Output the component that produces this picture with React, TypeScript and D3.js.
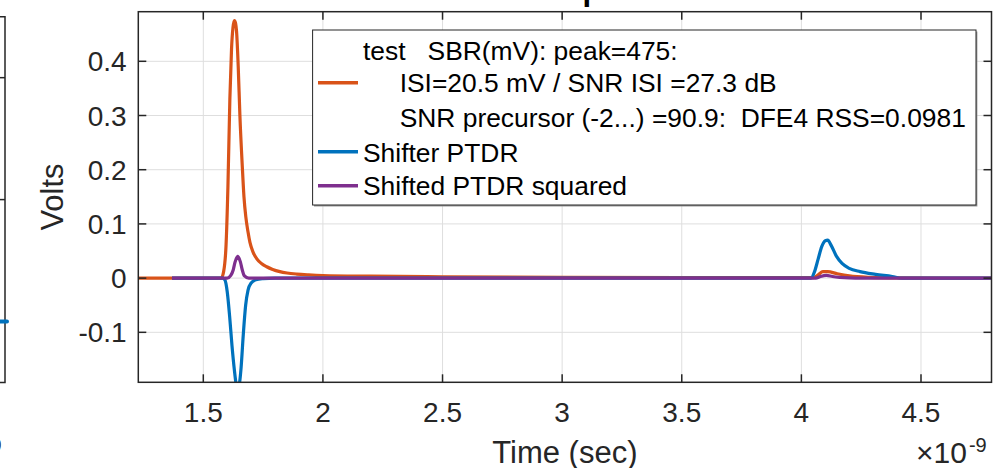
import React from 'react';
import * as d3 from 'd3';

// axis ticks (time in ns, shown with a x10^-9 exponent)
const xTicks = [1.5, 2, 2.5, 3, 3.5, 4, 4.5];
const yTicks = [-0.1, 0, 0.1, 0.2, 0.3, 0.4];

// SBR pulse response (orange)
const sbrTime = [1.2, 1.5, 1.575, 1.585, 1.595, 1.603, 1.611, 1.618, 1.624, 1.63, 1.635, 1.639, 1.646, 1.653, 1.663, 1.67,
  1.678, 1.687, 1.695, 1.708, 1.723, 1.743, 1.765, 1.79, 1.82, 1.85, 1.89, 1.94, 2.0, 2.2, 2.5, 3.0, 3.5, 4.0, 4.05,
  4.07, 4.09, 4.11, 4.15, 4.2, 4.28, 4.4, 4.8];
const sbrVolts = [0, 0, 0, 0.012, 0.06, 0.17, 0.33, 0.423, 0.462, 0.475, 0.47, 0.455, 0.39, 0.3, 0.206, 0.15,
  0.112, 0.085, 0.066, 0.048, 0.036, 0.027, 0.021, 0.016, 0.012, 0.0095, 0.0075, 0.006, 0.0048, 0.0035, 0.0025, 0.0015, 0.001, 0.0008, 0.0008,
  0.006, 0.012, 0.012, 0.008, 0.004, 0.0015, 0.0005, 0];

// Shifter PTDR (blue)
const ptdrTime = [1.369, 1.58, 1.59, 1.6, 1.61, 1.62, 1.63, 1.637, 1.644, 1.651, 1.658, 1.667, 1.677, 1.687, 1.7, 1.72, 1.75, 1.8,
  4.04, 4.055, 4.07, 4.085, 4.1, 4.11, 4.125, 4.147, 4.17, 4.2, 4.245, 4.31, 4.38, 4.42, 4.8];
const ptdrVolts = [0, 0, -0.003, -0.025, -0.07, -0.125, -0.17, -0.195, -0.205, -0.195, -0.165, -0.105, -0.05, -0.022, -0.009, -0.003, -0.001, 0,
  0, 0.012, 0.035, 0.058, 0.069, 0.07, 0.06, 0.04, 0.027, 0.018, 0.012, 0.007, 0.003, 0, 0];

// Shifted PTDR squared (purple)
const sqTime = [1.369, 1.6, 1.615, 1.625, 1.633, 1.644, 1.655, 1.663, 1.672, 1.69, 4.06, 4.08, 4.105, 4.13, 4.16, 4.2, 4.25, 4.8];
const sqVolts = [0, 0, 0.005, 0.015, 0.03, 0.04, 0.03, 0.015, 0.004, 0, 0, 0.003, 0.0049, 0.003, 0.0015, 0.0004, 0, 0];

// neighbouring subplot, only its right edge is in frame
const leftYTicks = [-1, 0, 1];
const leftTime = [4.774, 4.803];
const leftVolts = [-1, -1];

const legendText = [
  'test   SBR(mV): peak=475:',
  '     ISI=20.5 mV / SNR ISI =27.3 dB',
  '     SNR precursor (-2...) =90.9:  DFE4 RSS=0.0981',
  'Shifter PTDR',
  'Shifted PTDR squared',
];

const COLORS = { sbr: '#D95319', ptdr: '#0072BD', sq: '#7E2F8E' };
const AX = '#262626';
const GRID = '#dedede';
const FONT = '"Liberation Sans", Arial, Helvetica, sans-serif';

const box = { left: 138.3, right: 991.5, top: 11.7, bottom: 382.3 };
const leftBox = { right: 5, top: 16.7, bottom: 382.5 };

// matlab style labels, plain hyphen for the minus
const fmt = (v: number) => d3.format('~g')(v).replace('\u2212', '-');

export default function App() {
  const x = d3.scaleLinear().domain([1.2283, 4.7947]).range([box.left, box.right]);
  const y = d3.scaleLinear().domain([-0.1922, 0.4915]).range([box.bottom, box.top]);
  const lx = d3.scaleLinear().domain([1.2283, 4.7947]).range([leftBox.right - 853.2, leftBox.right]);
  const ly = d3.scaleLinear().domain([-1.5, 1.5]).range([leftBox.bottom, leftBox.top]);

  const line = (ts: number[], vs: number[]) =>
    d3.line<number>().x((d, i) => x(ts[i])).y(d => y(d)).curve(d3.curveMonotoneX)(vs) || '';

  const tickLen = 8;

  return (
    <svg width={1000} height={468} style={{ position: 'absolute', left: 0, top: 0, background: '#fff' }}
      fontFamily={FONT}>
      <defs>
        <clipPath id="plotClip">
          <rect x={box.left} y={box.top} width={box.right - box.left} height={box.bottom - box.top} />
        </clipPath>
      </defs>

      {/* partial neighbouring subplot */}
      <g>
        {leftYTicks.map(t => (
          <line key={t} x1={leftBox.right - tickLen} x2={leftBox.right} y1={ly(t)} y2={ly(t)} stroke={AX} strokeWidth={1.5} />
        ))}
        <path d={`M-10,${leftBox.top}H${leftBox.right}V${leftBox.bottom}H-10`} fill="none" stroke={AX} strokeWidth={1.5} />
        <path d={d3.line<number>().x((d, i) => lx(leftTime[i])).y(d => ly(d))(leftVolts) || ''}
          stroke={COLORS.ptdr} strokeWidth={4} strokeLinecap="round" fill="none" />
        <text x={leftBox.right - 74} y={463} fontSize={30} fill={AX}>
          ×10<tspan fontSize={20} dy={-11} dx={2}>-9</tspan>
        </text>
      </g>

      {/* title, only its descender peeks into the frame */}
      <text x={554} y={0} textAnchor="middle" fontSize={31} fontWeight="bold" fill="#000">Pulse Response</text>

      {/* grid */}
      {xTicks.map(t => (
        <line key={'gx' + t} x1={x(t)} x2={x(t)} y1={box.top} y2={box.bottom} stroke={GRID} strokeWidth={1} />
      ))}
      {yTicks.map(t => (
        <line key={'gy' + t} x1={box.left} x2={box.right} y1={y(t)} y2={y(t)} stroke={GRID} strokeWidth={1} />
      ))}

      {/* data */}
      <g clipPath="url(#plotClip)" fill="none" strokeWidth={3.2} strokeLinejoin="round">
        <path d={line(sbrTime, sbrVolts)} stroke={COLORS.sbr} />
        <path d={line(ptdrTime, ptdrVolts)} stroke={COLORS.ptdr} />
        <path d={line(sqTime, sqVolts)} stroke={COLORS.sq} />
      </g>

      {/* box + ticks */}
      <rect x={box.left} y={box.top} width={box.right - box.left} height={box.bottom - box.top}
        fill="none" stroke={AX} strokeWidth={1.5} />
      {xTicks.map(t => (
        <g key={'tx' + t} stroke={AX} strokeWidth={1.5}>
          <line x1={x(t)} x2={x(t)} y1={box.bottom} y2={box.bottom - tickLen} />
          <line x1={x(t)} x2={x(t)} y1={box.top} y2={box.top + tickLen} />
        </g>
      ))}
      {yTicks.map(t => (
        <g key={'ty' + t} stroke={AX} strokeWidth={1.5}>
          <line x1={box.left} x2={box.left + tickLen} y1={y(t)} y2={y(t)} />
          <line x1={box.right} x2={box.right - tickLen} y1={y(t)} y2={y(t)} />
        </g>
      ))}

      {/* tick labels */}
      {xTicks.map(t => (
        <text key={'lx' + t} x={x(t)} y={422} textAnchor="middle" fontSize={28} fill={AX}>{fmt(t)}</text>
      ))}
      {yTicks.map(t => (
        <text key={'ly' + t} x={126.7} y={y(t) + 10} textAnchor="end" fontSize={28} fill={AX}>{fmt(t)}</text>
      ))}

      {/* axis labels */}
      <text x={(box.left + box.right) / 2} y={463} textAnchor="middle" fontSize={31} fill={AX}>Time (sec)</text>
      <text transform={`translate(63,${(box.top + box.bottom) / 2}) rotate(-90)`} textAnchor="middle" fontSize={31} fill={AX}>Volts</text>
      <text x={box.right - 75.5} y={463} fontSize={30} fill={AX}>
        ×10<tspan fontSize={20} dy={-11} dx={2}>-9</tspan>
      </text>

      {/* legend */}
      <g>
        <rect x={314} y={31.5} width={663.4} height={175} fill="#9a9a9a" />
        <rect x={312.6} y={30} width={663.4} height={175} fill="#fff" stroke={AX} strokeWidth={1} />
        {[
          { c: COLORS.sbr, y: 82.7 },
          { c: COLORS.ptdr, y: 151.7 },
          { c: COLORS.sq, y: 185.7 },
        ].map(d => (
          <line key={d.c} x1={318} x2={358} y1={d.y} y2={d.y} stroke={d.c} strokeWidth={3.5} />
        ))}
        {legendText.map((s, i) => (
          <text key={i} x={363} y={[59.5, 92, 126.5, 161.5, 195][i]} fontSize={26.4} fill="#000"
            xmlSpace="preserve" style={{ whiteSpace: 'pre' }}>{s}</text>
        ))}
      </g>
    </svg>
  );
}
